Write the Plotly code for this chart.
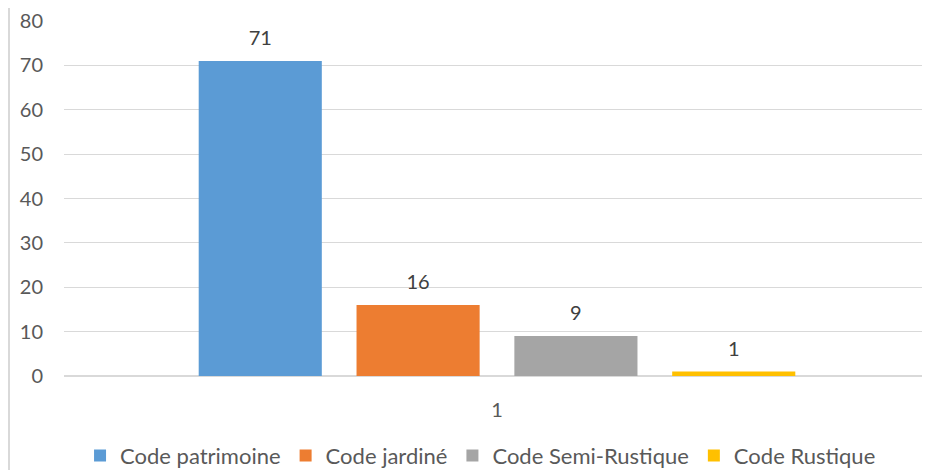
import plotly.graph_objects as go

categories = ["1"]
series_names = ["Code patrimoine", "Code jardiné", "Code Semi-Rustique", "Code Rustique"]
series_values = [[71], [16], [9], [1]]
colors = ["#5B9BD5", "#ED7D31", "#A5A5A5", "#FFC000"]
y_ticks = [0, 10, 20, 30, 40, 50, 60, 70, 80]

FONT = "Lato, 'Open Sans', sans-serif"
fig = go.Figure()
for name, vals, col in zip(series_names, series_values, colors):
    fig.add_trace(go.Bar(
        x=categories, y=vals, name=name, marker_color=col, marker_line_width=0,
        offsetgroup=name,
    ))
for name, vals in zip(series_names, series_values):
    fig.add_trace(go.Scatter(
        x=categories, y=vals, mode="markers+text", text=vals, textposition="top center",
        marker=dict(size=16, opacity=0), offsetgroup=name, showlegend=False,
        hoverinfo="skip", cliponaxis=False,
        textfont=dict(size=20, color="#404040", family=FONT),
    ))

fig.update_layout(
    width=922, height=462,
    margin=dict(l=56, r=0, t=13, b=94, autoexpand=False),
    paper_bgcolor="white", plot_bgcolor="white",
    barmode="group", bargap=0.271, bargroupgap=0.22,
    scattermode="group", scattergap=0.271,
    font=dict(family=FONT, color="#595959", size=20),
    showlegend=True,
    legend=dict(orientation="h", x=0.481, xanchor="center", y=-0.165, yanchor="top",
                font=dict(size=22, color="#595959"), itemwidth=30, traceorder="normal"),
    xaxis=dict(showgrid=False, showline=False, ticks="", ticklabelstandoff=20, automargin=False,
               tickfont=dict(size=20, color="#595959")),
    yaxis=dict(range=[0, 80], tickvals=y_ticks, showgrid=True, gridcolor="#D9D9D9",
               zeroline=True, zerolinecolor="#D9D9D9", showline=False, ticks="", automargin=False,
               ticklabelstandoff=20, tickfont=dict(size=20, color="#595959")),
)
fig.add_shape(type="line", xref="paper", yref="paper", x0=-0.0635, x1=-0.0635, y0=-0.3, y1=1.07,
              line=dict(color="#D9D9D9", width=2))
fig.write_html("out.html")
